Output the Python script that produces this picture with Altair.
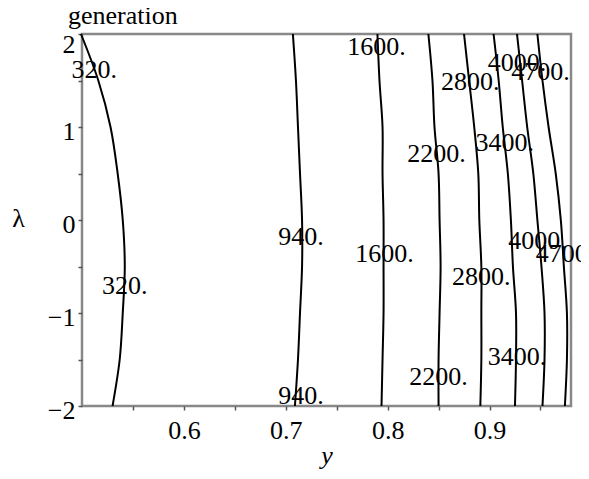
import altair as alt
import pandas as pd

# contour levels and sampled positions (y-value at each lambda)
levels = [320, 940, 1600, 2200, 2800, 3400, 4000, 4700]
lam = [2.0, 1.5, 1.0, 0.5, 0.0, -0.5, -1.0, -1.5, -2.0]
c320 = [0.499, 0.516, 0.528, 0.535, 0.540, 0.542, 0.540, 0.537, 0.530]
c940 = [0.707, 0.710, 0.712, 0.714, 0.716, 0.716, 0.714, 0.712, 0.709]
c1600 = [0.790, 0.792, 0.795, 0.795, 0.796, 0.796, 0.796, 0.795, 0.794]
c2200 = [0.840, 0.844, 0.846, 0.850, 0.851, 0.852, 0.851, 0.850, 0.850]
c2800 = [0.875, 0.880, 0.885, 0.889, 0.890, 0.892, 0.892, 0.892, 0.891]
c3400 = [0.904, 0.909, 0.913, 0.918, 0.921, 0.923, 0.926, 0.926, 0.925]
c4000 = [0.927, 0.932, 0.937, 0.943, 0.947, 0.951, 0.954, 0.954, 0.952]
c4700 = [0.947, 0.952, 0.958, 0.965, 0.970, 0.973, 0.976, 0.976, 0.974]
curves = [c320, c940, c1600, c2200, c2800, c3400, c4000, c4700]

# contour labels
label_text = ["320.", "320.", "940.", "940.", "1600.", "1600.", "2200.", "2200.",
              "2800.", "2800.", "3400.", "3400.", "4000.", "4000.", "4700.", "4700"]
label_y = [0.512, 0.542, 0.715, 0.715, 0.789, 0.797, 0.848, 0.850,
           0.881, 0.892, 0.915, 0.927, 0.927, 0.947, 0.950, 0.971]
label_lam = [1.61, -0.71, -0.18, -1.89, 1.86, -0.37, 0.71, -1.69,
             1.48, -0.61, 0.83, -1.47, 1.69, -0.23, 1.59, -0.37]

title_text = ["generation"]

rows = []
for lev, xs in zip(levels, curves):
    for i, (l, xv) in enumerate(zip(lam, xs)):
        rows.append({"level": lev, "i": i, "lam": l, "y": xv})
df = pd.DataFrame(rows)
lab = pd.DataFrame({"text": label_text, "y": label_y, "lam": label_lam})

FONT = "Liberation Serif"
xscale = alt.Scale(domain=[0.5, 0.98], nice=False, zero=False)
yscale = alt.Scale(domain=[-2, 2], nice=False, zero=False)

xaxis = alt.Axis(
    values=[0.55, 0.6, 0.65, 0.7, 0.75, 0.8, 0.85, 0.9, 0.95],
    labelExpr="abs(datum.value*10 - round(datum.value*10)) < 0.01 ? format(datum.value, '.1f') : ''",
    title="y", titleFontStyle="italic", titleFont=FONT, titleFontSize=26,
    titleFontWeight="normal", titleColor="black",
    titleBaseline="alphabetic", titleY=57,
    labelFont=FONT, labelFontSize=26, labelColor="black", labelPadding=7,
    tickSize=4, tickColor="#555", tickWidth=1.5, domain=False, grid=False,
)
yaxis = alt.Axis(
    values=[-2, -1.5, -1, -0.5, 0, 0.5, 1, 1.5, 2],
    labelExpr="datum.value % 1 == 0 ? format(datum.value, 'd') : ''",
    labelOffset={"condition": {"test": "datum.value == 2", "value": 10}, "value": 4},
    title="λ", titleAngle=0, titleFont=FONT, titleFontSize=26,
    titleFontWeight="normal", titleColor="black",
    titleAlign="center", titleBaseline="middle", titleX=-64, titleY=184,
    labelFont=FONT, labelFontSize=26, labelColor="black", labelPadding=3,
    tickSize=4, tickColor="#555", tickWidth=1.5, domain=False, grid=False,
)

lines = alt.Chart(df).mark_line(
    color="black", strokeWidth=2, interpolate="catmull-rom"
).encode(
    x=alt.X("y:Q", scale=xscale, axis=xaxis),
    y=alt.Y("lam:Q", scale=yscale, axis=yaxis),
    detail="level:N",
    order="i:Q",
)
texts = alt.Chart(lab).mark_text(
    font=FONT, fontSize=26, align="center", baseline="middle", color="black"
).encode(
    x=alt.X("y:Q", scale=xscale),
    y=alt.Y("lam:Q", scale=yscale),
    text="text:N",
)
title = alt.Chart(pd.DataFrame({"t": title_text})).mark_text(
    font=FONT, fontSize=26, align="left", baseline="alphabetic", color="black"
).encode(
    x=alt.value(-14),
    y=alt.value(-10),
    text="t:N",
)

chart = alt.layer(lines, texts, title).properties(
    width=489, height=372,
    autosize=alt.AutoSizeParams(type="none"),
    padding={"left": 74, "top": 26, "right": 10, "bottom": 63},
).configure_view(stroke="#888", strokeWidth=2.5)

chart.save("out.html", embed_options={"renderer": "svg", "actions": False})
